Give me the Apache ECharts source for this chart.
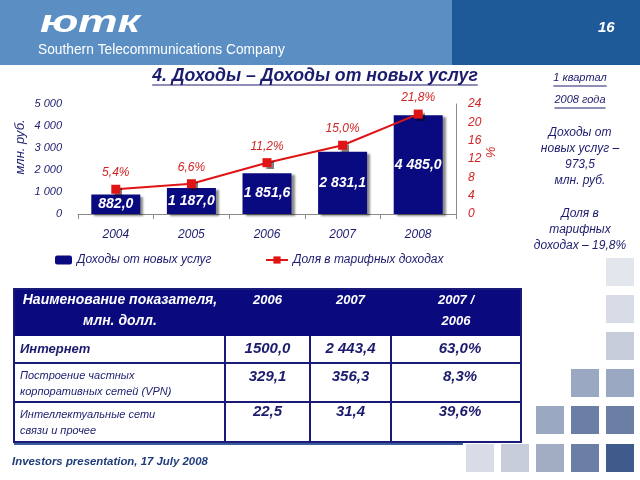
<!DOCTYPE html>
<html><head><meta charset="utf-8">
<script src="https://cdn.jsdelivr.net/npm/echarts@6/dist/echarts.min.js"></script>
<style>html,body{margin:0;padding:0;background:#fff}#c{width:640px;height:480px}</style>
</head><body><div id="c"></div>
<script>
// ---- data ----
const categories = ['2004', '2005', '2006', '2007', '2008'];
const revenue = [882.0, 1187.0, 1851.6, 2831.1, 4485.0];
const share = [5.4, 6.6, 11.2, 15.0, 21.8];
const seriesNames = ['Доходы от новых услуг', 'Доля в тарифных доходах'];
const leftAxisName = 'млн. руб.';
const rightAxisName = '%';
const titleText = '4. Доходы – Доходы от новых услуг';
const sideLines = ['1 квартал', '2008 года', '', 'Доходы от', 'новых услуг –', '973,5', 'млн. руб.', '', 'Доля в', 'тарифных', 'доходах – 19,8%'];
const tableHeader = [['Наименование показателя,', 'млн. долл.'], ['2006'], ['2007'], ['2007 /', '2006']];
const tableNames = [['Интернет'], ['Построение частных', 'корпоративных сетей (VPN)'], ['Интеллектуальные сети', 'связи и прочее']];
const table2006 = ['1500,0', '329,1', '22,5'];
const table2007 = ['2 443,4', '356,3', '31,4'];
const tableRatio = ['63,0%', '8,3%', '39,6%'];
const footerText = 'Investors presentation, 17 July 2008';
const companyText = 'Southern Telecommunications Company';
const logoText = 'ютк';
const pageNo = '16';

// ---- helpers ----
const F = '"Liberation Sans", Arial, sans-serif';
const NAVY = '#1c1c6e';
const RED = '#d02424';
function fmt(v, d) {
  const s = v.toFixed(d).split('.');
  return s[0].replace(/\B(?=(\d{3})+(?!\d))/g, ' ') + (d ? ',' + s[1] : '');
}
const ctx = document.createElement('canvas').getContext('2d');
function tw(text, font) { ctx.font = font; return ctx.measureText(text).width; }
function fit(text, pre, target, fam) {
  const w = tw(text, pre + ' 20px ' + (fam || F));
  return 20 * target / w;
}
const G = [];
function txt(text, x, y, font, fill, align, valign, extra) {
  G.push(Object.assign({ type: 'text', x: x, y: y, silent: true,
    style: { text: text, font: font, fill: fill, align: align || 'left', verticalAlign: valign || 'middle' } }, extra || {}));
}
function line(x1, y1, x2, y2, color, w) {
  G.push({ type: 'line', silent: true, shape: { x1: x1, y1: y1, x2: x2, y2: y2 }, style: { stroke: color, lineWidth: w } });
}
function rect(x, y, w, h, fill, stroke, lw) {
  G.push({ type: 'rect', silent: true, shape: { x: x, y: y, width: w, height: h }, style: { fill: fill || 'none', stroke: stroke || 'none', lineWidth: lw || 0 } });
}
function underlined(text, cx, y, font, color, off) {
  txt(text, cx, y, font, color, 'center', 'middle');
  const w = tw(text, font);
  line(cx - w / 2, y + off, cx + w / 2, y + off, color, 1);
}

// ---- header ----
rect(0, 0, 452, 65, '#5b8fc4');
rect(452, 0, 188, 65, '#1f5a98');
const logoFont = 'italic bold 32px ' + F;
const logoScale = 100 / tw(logoText, logoFont);
txt(logoText, 40, 23, logoFont, '#ffffff', 'left', 'middle', { scaleX: logoScale });
const compSize = fit(companyText, '', 247);
txt(companyText, 38, 50, compSize + 'px ' + F, '#ffffff', 'left', 'middle');
txt(pageNo, 598, 28, 'italic bold 15px ' + F, '#ffffff', 'left', 'middle');

// ---- title ----
const titleSize = fit(titleText, 'italic bold', 326);
underlined(titleText, 315, 76, 'italic bold ' + titleSize + 'px ' + F, NAVY, 9);

// ---- side text ----
const sideY = [78, 100, 0, 133, 149, 165, 181, 0, 214, 230, 246];
sideLines.forEach(function (s, i) {
  if (!s) return;
  const font = 'italic ' + (i < 2 ? 11 : 12) + 'px ' + F;
  if (i < 2) underlined(s, 580, sideY[i], font, NAVY, 8);
  else txt(s, 580, sideY[i], font, NAVY, 'center', 'middle');
});

// ---- axis names ----
txt(leftAxisName, 20, 147, 'italic 13px ' + F, NAVY, 'center', 'middle', { rotation: Math.PI / 2 });
txt(rightAxisName, 490, 152, 'italic 13px ' + F, RED, 'center', 'middle', { rotation: -Math.PI / 2 });

// ---- table ----
const cols = [14, 225, 310, 391, 521];
const rowsY = [289, 336, 363, 402, 442];
const valueY = [349, 377, 412];
rect(cols[0], rowsY[0], cols[4] - cols[0], rowsY[1] - rowsY[0], '#0a0a7e');
tableHeader.forEach(function (lines, c) {
  const cx = c === 0 ? 120 : (cols[c] + cols[c + 1]) / 2;
  lines.forEach(function (l, k) {
    txt(l, cx, 300 + k * 21, 'italic bold ' + (c === 0 ? 14 : 13) + 'px ' + F, '#ffffff', 'center', 'middle');
  });
});
tableNames.forEach(function (lines, r) {
  lines.forEach(function (l, k) {
    if (r === 0) txt(l, 20, (rowsY[1] + rowsY[2]) / 2, 'italic bold 13px ' + F, NAVY, 'left', 'middle');
    else txt(l, 20, rowsY[r + 1] + 13 + k * 16, 'italic 11px ' + F, NAVY, 'left', 'middle');
  });
  [table2006, table2007, tableRatio].forEach(function (arr, c) {
    const cx = c === 2 ? 460 : (cols[c + 1] + cols[c + 2]) / 2;
    txt(arr[r], cx, valueY[r], 'italic bold 15px ' + F, NAVY, 'center', 'middle');
  });
});
rect(cols[0], rowsY[0], cols[4] - cols[0], rowsY[4] - rowsY[0], 'none', '#1a1a78', 2);
[rowsY[2], rowsY[3]].forEach(function (y) { line(cols[0], y, cols[4], y, '#1a1a78', 2); });
[cols[1], cols[2], cols[3]].forEach(function (x) { line(x, rowsY[1], x, rowsY[4], '#1a1a78', 2); });

// ---- footer ----
line(14, 444, 463, 444, '#3b5c9b', 2);
const footSize = fit(footerText, 'italic bold', 196);
txt(footerText, 12, 462, 'italic bold ' + footSize + 'px ' + F, '#1f3d7a', 'left', 'middle');

// ---- decorative squares ----
const sqX = [466, 501, 536, 571, 606];
const sqY = [258, 295, 332, 369, 406, 444];
const squares = [
  [4, 0, '#e3e6ed'], [4, 1, '#d7dce6'], [4, 2, '#c6ccda'],
  [3, 3, '#9ba8c1'], [4, 3, '#9ba8c1'],
  [2, 4, '#9ba8c1'], [3, 4, '#6b7fa4'], [4, 4, '#6b7fa4'],
  [0, 5, '#d8dce6'], [1, 5, '#c6ccda'], [2, 5, '#a2adc4'], [3, 5, '#6b7fa4'], [4, 5, '#3f5b8b']
];
squares.forEach(function (s) { rect(sqX[s[0]], sqY[s[1]], 28, 28, s[2]); });

// ---- chart ----
const chart = echarts.init(document.getElementById('c'), null, { renderer: 'canvas' });
const legendText = { color: NAVY, fontStyle: 'italic', fontSize: 12, fontFamily: F };
chart.setOption({
  animation: false,
  grid: { left: 78, right: 184, top: 104, bottom: 266 },
  legend: [
    { data: [seriesNames[0]], left: 50, top: 249, itemWidth: 17, itemHeight: 9, itemGap: 4, textStyle: legendText },
    { data: [seriesNames[1]], left: 260, top: 249, itemWidth: 22, itemHeight: 9, itemGap: 4, textStyle: legendText }
  ],
  xAxis: {
    type: 'category', data: categories,
    axisLine: { lineStyle: { color: '#8a8a8a', width: 1 } },
    axisTick: { show: true, length: 5, lineStyle: { color: '#8a8a8a' } },
    axisLabel: { margin: 15, color: NAVY, fontStyle: 'italic', fontSize: 12, fontFamily: F }
  },
  yAxis: [
    { type: 'value', min: 0, max: 5000, interval: 1000, splitLine: { show: false },
      axisLine: { show: false }, axisTick: { show: false },
      axisLabel: { formatter: function (v) { return fmt(v, 0); }, margin: 16, color: NAVY, fontStyle: 'italic', fontSize: 11, fontFamily: F } },
    { type: 'value', min: 0, max: 24, interval: 4, position: 'right', splitLine: { show: false },
      axisLine: { show: true, lineStyle: { color: '#8a8a8a' } }, axisTick: { show: false },
      axisLabel: { margin: 12, color: RED, fontStyle: 'italic', fontSize: 12, fontFamily: F } }
  ],
  series: [
    { type: 'bar', name: seriesNames[0], data: revenue, barWidth: 49,
      itemStyle: { color: '#0a0a80', shadowColor: 'rgba(0,0,0,0.45)', shadowOffsetX: 3, shadowOffsetY: 2, shadowBlur: 2 },
      label: { show: true, position: 'inside', formatter: function (p) { return fmt(p.value, 1); },
        color: '#ffffff', fontWeight: 'bold', fontStyle: 'italic', fontSize: 14, fontFamily: F } },
    { type: 'line', name: seriesNames[1], yAxisIndex: 1, data: share, symbol: 'rect', symbolSize: 9,
      lineStyle: { color: '#e01414', width: 2 },
      itemStyle: { color: '#e01414', shadowColor: 'rgba(0,0,0,0.5)', shadowOffsetX: 2, shadowOffsetY: 2, shadowBlur: 1 },
      label: { show: true, position: 'top', distance: 6, formatter: function (p) { return fmt(p.value, 1) + '%'; },
        color: RED, fontStyle: 'italic', fontSize: 12, fontFamily: F } }
  ],
  graphic: { elements: G }
});
</script></body></html>
